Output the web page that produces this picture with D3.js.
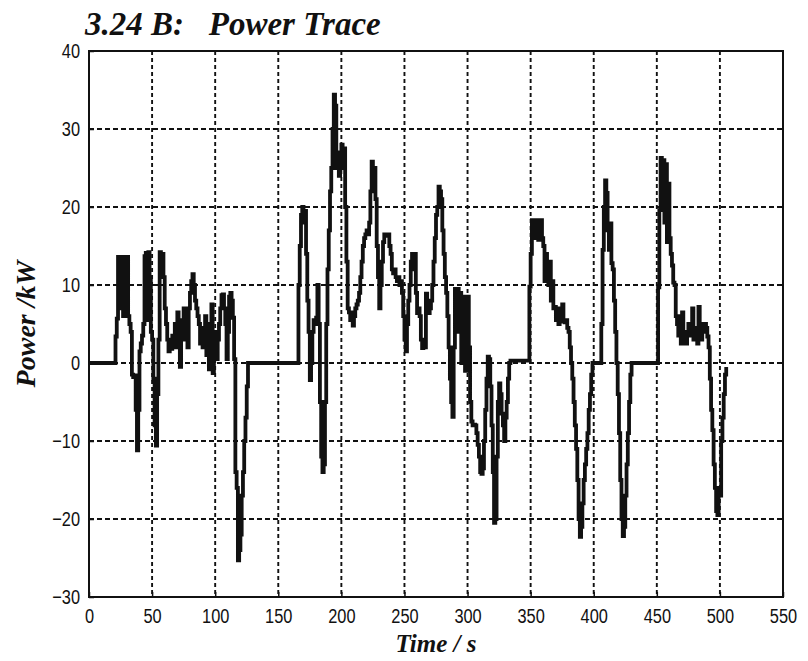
<!DOCTYPE html>
<html>
<head>
<meta charset="utf-8">
<script src="https://cdn.jsdelivr.net/npm/d3@7"></script>
<style>
  html, body { margin: 0; padding: 0; background: #fff; }
  svg { display: block; }
  .title, .axis-title { font-family: "Liberation Serif", "Times New Roman", serif; font-weight: bold; font-style: italic; fill: #111; }
  .tick-label { font-family: "Liberation Sans", Arial, sans-serif; fill: #111; }
</style>
</head>
<body>
<svg id="chart" width="808" height="661"></svg>
<script>
// Power trace over a drive cycle (time in s, power in kW), sampled once per second
const seconds = [
  0, 20, 21, 22, 23, 24, 25, 26, 27, 28, 29, 30, 31, 32, 33, 34, 35, 36, 37, 38, 39,
  40, 41, 42, 43, 44, 45, 46, 47, 48, 49, 50, 51, 52, 53, 54, 55, 56, 57, 58, 59,
  60, 61, 62, 63, 64, 65, 66, 67, 68, 69, 70, 71, 72, 73, 74, 75, 76, 77, 78, 79,
  80, 81, 82, 83, 84, 85, 86, 87, 88, 89, 90, 91, 92, 93, 94, 95, 96, 97, 98, 99,
  100, 101, 102, 103, 104, 105, 106, 107, 108, 109, 110, 111, 112, 113, 114, 115, 116, 117, 118, 119,
  120, 121, 122, 123, 124, 125, 126, 165, 166, 167, 168, 169, 170, 171, 172, 173, 174, 175, 176, 177, 178, 179,
  180, 181, 182, 183, 184, 185, 186, 187, 188, 189, 190, 191, 192, 193, 194, 195, 196, 197, 198, 199,
  200, 201, 202, 203, 204, 205, 206, 207, 208, 209, 210, 211, 212, 213, 214, 215, 216, 217, 218, 219,
  220, 221, 222, 223, 224, 225, 226, 227, 228, 229, 230, 231, 232, 233, 234, 235, 236, 237, 238, 239,
  240, 241, 242, 243, 244, 245, 246, 247, 248, 249, 250, 251, 252, 253, 254, 255, 256, 257, 258, 259,
  260, 261, 262, 263, 264, 265, 266, 267, 268, 269, 270, 271, 272, 273, 274, 275, 276, 277, 278, 279,
  280, 281, 282, 283, 284, 285, 286, 287, 288, 289, 290, 291, 292, 293, 294, 295, 296, 297, 298, 299,
  300, 301, 302, 303, 304, 305, 306, 307, 308, 309, 310, 311, 312, 313, 314, 315, 316, 317, 318, 319,
  320, 321, 322, 323, 324, 325, 326, 327, 328, 329, 330, 331, 332, 333, 334, 348, 349,
  350, 351, 352, 353, 354, 355, 356, 357, 358, 359, 360, 361, 362, 363, 364, 365, 366, 367, 368, 369,
  370, 371, 372, 373, 374, 375, 376, 377, 378, 379, 380, 381, 382, 383, 384, 385, 386, 387, 388, 389,
  390, 391, 392, 393, 394, 395, 396, 397, 398, 399, 405, 406, 407, 408, 409, 410, 411, 412, 413, 414,
  415, 416, 417, 418, 419, 420, 421, 422, 423, 424, 425, 426, 427, 428, 429, 430, 450, 451, 452, 453,
  454, 455, 456, 457, 458, 459, 460, 461, 462, 463, 464, 465, 466, 467, 468, 469, 470, 471, 472, 473,
  474, 475, 476, 477, 478, 479, 480, 481, 482, 483, 484, 485, 486, 487, 488, 489, 490, 491, 492, 493,
  494, 495, 496, 497, 498, 499, 500, 501, 502, 503, 504, 505
];
const powerKW = [
  0, 0, 3.4, 5.7, 13.6, 7, 13.2, 13.6, 6, 13, 9, 13.6, 6, 5, 4, -1.5, -1.8, -1.6, -6, -11.2, -6,
  1.5, 2.5, 3.5, 5, 13.7, 14.1, 5.5, 14.2, 11, 4, 3, -2, -8, -10.6, -4, 3, 14.2, 13.5, 14, 11,
  7, 5, 3, 1.5, 3, 1.8, 3.5, 2.5, 5, 2, 6.5, 3, -0.5, 5.5, 3, 7, 4.5, 6.5, 2, 7,
  9, 10.5, 11.4, 10, 8, 7, 6, 5, 2.5, 4.5, 2, 3, 6, 1, 5, -0.8, 3, 7.5, -1.3, 4,
  1, 0.5, 3, 5, 7, 8.7, 8.8, 7, 5, 0.5, 4, 8.5, 9, 8, 5.8, 0.5, -14, -16, -25.3, -24,
  -22, -17, -14, -10, -7, -3, 0, 0, 10, 15, 19, 20, 18, 19.5, 14, 8, 4, -2.2, 0, 4, 5.5, 5,
  5.8, 10, 5, -5, -12, -14, -13, -5, 5, 12, 17, 22, 25, 30, 34.4, 33, 25, 27, 24, 26,
  28, 25, 27.5, 20, 13, 7, 6.5, 5.5, 6.5, 4.8, 6, 7, 7.5, 8, 9, 11, 13, 15, 16, 16.5,
  17, 16.5, 18, 22, 25.8, 24, 25, 21, 15, 11, 7, 10, 13, 15.5, 16.5, 16.5, 16.3, 16.5, 15, 14,
  12, 11.5, 12, 11, 10.5, 11, 10, 10.5, 9, 6, 3, 1.5, 5, 8, 10, 13, 14, 12, 14, 9,
  6.4, 7, 6, 3, 1.9, 3, 2, 8.9, 7, 6.4, 7, 8, 10, 13, 16, 19, 20, 22.6, 22, 21,
  17, 14, 11, 9, 6, 2, -2, -5, -6.9, 2, 9.5, 7, 9.5, 4, 9, 0, 8.5, 3, -1, 6,
  8.5, 2, -5, -7.5, -8, -7.9, -8, -9, -10.5, -12, -14, -14.2, -13.5, -10, -6, -2, 0.8, 0.5, -3, -8,
  -14, -20.5, -20, -12, -5, -2.6, -4, -6.5, -8, -10, -7, -5, -2, 0, 0.3, 0.3, 9.8,
  14, 18.3, 18, 16, 18.3, 18, 15.8, 17, 18.3, 16, 15, 10.5, 14, 12, 10, 13, 8, 10.5, 7, 7.2,
  5.5, 7, 5, 5.5, 5.3, 7.5, 5.5, 5.2, 5.5, 4.5, 4, 2, 0, -2, -5, -8, -11, -15, -20, -22.3,
  -21, -18, -15, -13, -11, -9, -6, -4, -1.5, 0, 0, 5, 14.5, 20, 23.4, 21.8, 17, 14.5, 17.9, 12.8,
  12, 8, 4, 0, -4, -9, -15, -20, -22.2, -21, -17, -13, -9, -5, -1.5, 0, 0, 9.7, 19.6, 26.3,
  22, 26, 18, 25.5, 15.5, 23, 16, 14, 12.5, 10.3, 10, 6, 5, 3.5, 6, 2.5, 6.5, 3, 4, 2.5,
  4, 5, 4.5, 3.5, 7, 3, 4, 4.5, 2.5, 7.2, 5, 3, 4.5, 4, 5, 4.5, 3.4, 2, -2, -6,
  -8.6, -13, -16, -19, -19.5, -16, -17, -10, -7, -4, -1.5, -0.5
];

// Axis ticks and text
const xTicks = [0, 50, 100, 150, 200, 250, 300, 350, 400, 450, 500, 550];
const yTicks = [-30, -20, -10, 0, 10, 20, 30, 40];
const titleText = "3.24 B:\u00a0\u00a0\u00a0Power Trace";
const xLabel = "Time / s";
const yLabel = "Power /kW";

const svg = d3.select("#chart");
const margin = { top: 51, right: 25, bottom: 64, left: 89 };
const W = 808, H = 661;
const plotW = W - margin.left - margin.right;
const plotH = H - margin.top - margin.bottom;

const x = d3.scaleLinear().domain([0, 550]).range([0, plotW]);
const y = d3.scaleLinear().domain([-30, 40]).range([plotH, 0]);

const g = svg.append("g").attr("transform", `translate(${margin.left},${margin.top})`);

// dashed grid
g.append("g").selectAll("line").data(xTicks.slice(1, -1)).join("line")
  .attr("x1", d => x(d)).attr("x2", d => x(d))
  .attr("y1", 0).attr("y2", plotH)
  .attr("stroke", "#111").attr("stroke-width", 1.9)
  .attr("stroke-dasharray", "4,3");
g.append("g").selectAll("line").data(yTicks.slice(1, -1)).join("line")
  .attr("x1", 0).attr("x2", plotW)
  .attr("y1", d => y(d)).attr("y2", d => y(d))
  .attr("stroke", "#111").attr("stroke-width", 1.9)
  .attr("stroke-dasharray", "5,3");

// axes: condensed tick labels, short inward ticks
const squeeze = 0.78;
const xAxis = d3.axisBottom(x).tickValues(xTicks).tickSize(-5).tickPadding(11).tickFormat(d3.format("d"));
const yAxis = d3.axisLeft(y).tickValues(yTicks).tickSize(-5).tickPadding(9).tickFormat(d3.format("d"));

const gx = g.append("g").attr("transform", `translate(0,${plotH})`).call(xAxis);
const gy = g.append("g").call(yAxis);
[gx, gy].forEach(a => {
  a.select(".domain").remove();
  a.selectAll(".tick line").attr("stroke", "#111").attr("stroke-width", 1.5);
  a.selectAll(".tick text").attr("class", "tick-label").attr("font-size", 21).attr("fill", "#111")
    .attr("transform", `scale(${squeeze},1)`);
});
gy.selectAll(".tick text").attr("x", -9 / squeeze);

// power trace, held constant over each one-second sample
const line = d3.line()
  .x((d, i) => x(seconds[i]))
  .y(d => y(d))
  .curve(d3.curveStepAfter);

g.append("path")
  .datum(powerKW)
  .attr("d", line)
  .attr("fill", "none")
  .attr("stroke", "#111")
  .attr("stroke-width", 3.8)
  .attr("stroke-linejoin", "miter")
  .attr("stroke-miterlimit", 2);

// frame
g.append("rect")
  .attr("x", 0).attr("y", 0).attr("width", plotW).attr("height", plotH)
  .attr("fill", "none").attr("stroke", "#111").attr("stroke-width", 2);

// titles
svg.append("text").attr("class", "title")
  .attr("x", 85).attr("y", 35)
  .attr("font-size", 33)
  .text(titleText);

svg.append("text").attr("class", "axis-title")
  .attr("x", margin.left + plotW / 2).attr("y", 652)
  .attr("text-anchor", "middle")
  .attr("font-size", 25)
  .text(xLabel);

svg.append("text").attr("class", "axis-title")
  .attr("transform", `translate(35,${margin.top + plotH / 2}) rotate(-90)`)
  .attr("text-anchor", "middle")
  .attr("font-size", 28)
  .text(yLabel);
</script>
</body>
</html>
